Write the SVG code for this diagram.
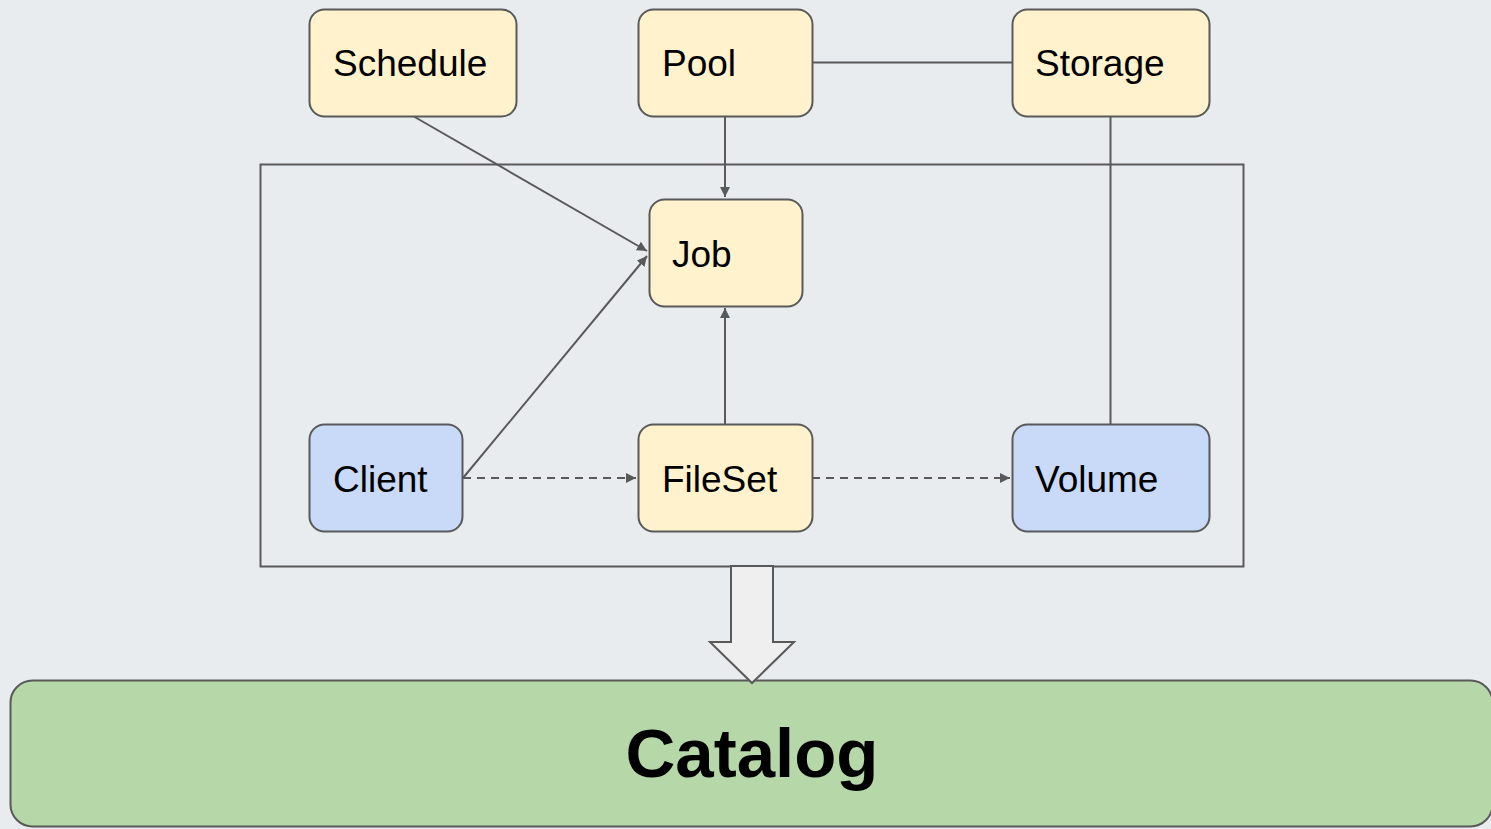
<svg xmlns="http://www.w3.org/2000/svg" width="1491" height="829" viewBox="0 0 1491 829">
  <style>
    .node rect { stroke: #595959; stroke-width: 2; }
    .yellow rect { fill: #fff2cc; }
    .blue rect { fill: #c9daf8; }
    .label { font-family: "Liberation Sans", Arial, sans-serif; font-size: 37px; fill: #000; }
    .edge { fill: none; stroke: #595959; stroke-width: 2; }
    .dashed { stroke-dasharray: 8 6; }
  </style>
  <defs>
    <marker id="arrow" viewBox="0 0 10 10" refX="10" refY="5" markerWidth="5" markerHeight="5" orient="auto" markerUnits="strokeWidth">
      <path d="M0,0 L10,5 L0,10 z" fill="#595959"/>
    </marker>
  </defs>

  <rect width="1491" height="829" fill="#e8ecee"/>

  <!-- grouping frame -->
  <rect id="frame" x="260.5" y="164.5" width="983" height="402" fill="none" stroke="#595959" stroke-width="2"/>

  <g id="connectors">
    <line class="edge" x1="413" y1="116" x2="647" y2="251" marker-end="url(#arrow)"/>
    <line class="edge" x1="725" y1="116" x2="725" y2="197" marker-end="url(#arrow)"/>
    <line class="edge" x1="812" y1="62.5" x2="1012" y2="62.5"/>
    <line class="edge" x1="1110.5" y1="116" x2="1110.5" y2="424"/>
    <line class="edge" x1="463" y1="478" x2="647" y2="256" marker-end="url(#arrow)"/>
    <line class="edge" x1="725" y1="424" x2="725" y2="308" marker-end="url(#arrow)"/>
    <line class="edge dashed" x1="463" y1="478" x2="636" y2="478" marker-end="url(#arrow)"/>
    <line class="edge dashed" x1="812" y1="478" x2="1010" y2="478" marker-end="url(#arrow)"/>
  </g>

  <g id="schedule" class="node yellow">
    <rect x="309.5" y="9.5" width="207" height="107" rx="15"/>
    <text class="label" x="333" y="76">Schedule</text>
  </g>
  <g id="pool" class="node yellow">
    <rect x="638.5" y="9.5" width="174" height="107" rx="15"/>
    <text class="label" x="662" y="76">Pool</text>
  </g>
  <g id="storage" class="node yellow">
    <rect x="1012.5" y="9.5" width="197" height="107" rx="15"/>
    <text class="label" x="1035" y="76">Storage</text>
  </g>
  <g id="job" class="node yellow">
    <rect x="649.5" y="199.5" width="153" height="107" rx="15"/>
    <text class="label" x="672" y="267">Job</text>
  </g>
  <g id="client" class="node blue">
    <rect x="309.5" y="424.5" width="153" height="107" rx="15"/>
    <text class="label" x="333" y="492">Client</text>
  </g>
  <g id="fileset" class="node yellow">
    <rect x="638.5" y="424.5" width="174" height="107" rx="15"/>
    <text class="label" x="662" y="492">FileSet</text>
  </g>
  <g id="volume" class="node blue">
    <rect x="1012.5" y="424.5" width="197" height="107" rx="15"/>
    <text class="label" x="1035" y="492">Volume</text>
  </g>
  <g id="catalog" class="node">
    <rect x="10.5" y="680.5" width="1482" height="146" rx="22" fill="#b6d7a8"/>
    <text x="752" y="777" text-anchor="middle" font-family="'Liberation Sans', Arial, sans-serif" font-size="69" font-weight="bold" fill="#000">Catalog</text>
  </g>

  <!-- block arrow into the catalog -->
  <path id="flow" d="M731,566 L773,566 L773,642 L794,642 L752,683 L710,642 L731,642 Z" fill="#efefef" stroke="#595959" stroke-width="2" stroke-linejoin="miter"/>
</svg>
